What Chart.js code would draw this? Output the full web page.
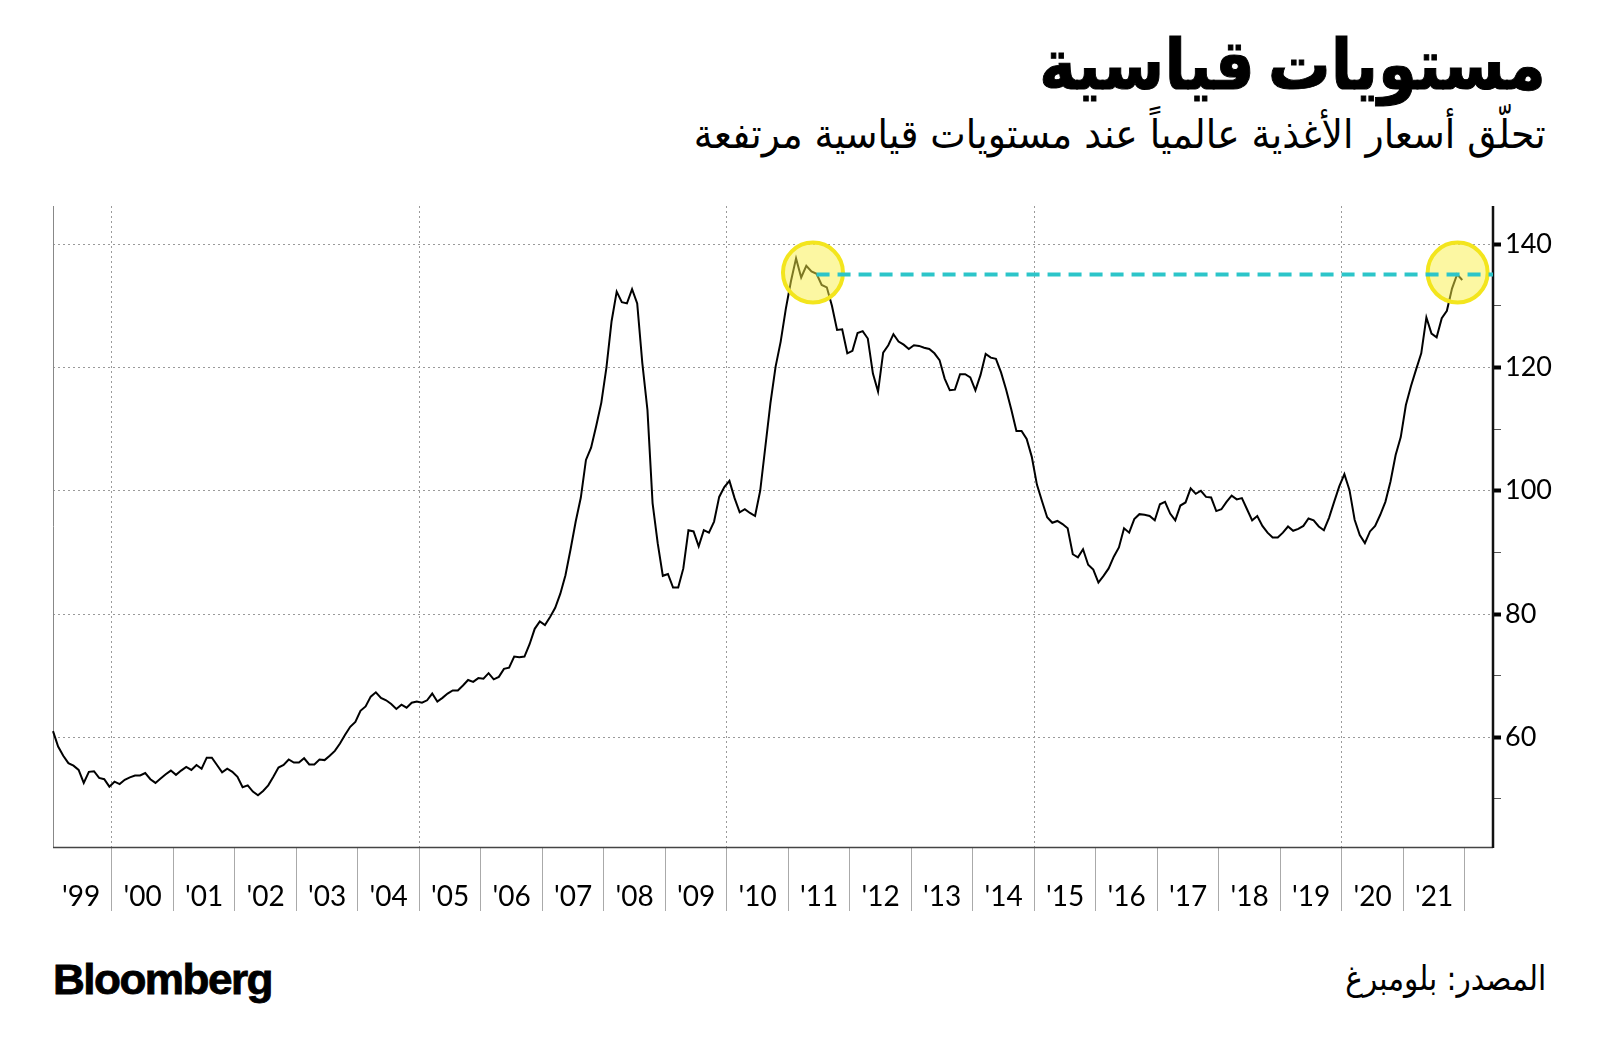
<!DOCTYPE html>
<html lang="ar">
<head>
<meta charset="utf-8">
<title>مستويات قياسية</title>
<script src="https://cdn.jsdelivr.net/npm/chart.js@4.4.0/dist/chart.umd.min.js"></script>
<style>
  html, body { margin: 0; padding: 0; background: #fff; }
  body { width: 1600px; height: 1058px; position: relative; overflow: hidden; }
  .txt { position: absolute; white-space: nowrap; line-height: 1; color: #000; display: inline-block; }
  .ar { direction: rtl; right: 54px; transform-origin: right center; font-family: "DejaVu Sans", sans-serif; }
  #title { top: 30px; font-size: 70px; font-weight: bold; word-spacing: -10px; -webkit-text-stroke: 1px #000; }
  #subtitle { top: 114px; font-size: 40px; }
  #source { top: 961px; font-size: 34px; }
  #brand { left: 53px; top: 958px; font-family: "Liberation Sans", Arial, sans-serif; font-weight: bold;
           font-size: 43px; letter-spacing: -1.5px; -webkit-text-stroke: 0.8px #000; transform-origin: left center; }
  #wrap { position: absolute; left: 0; top: 0; width: 1600px; height: 1058px; }
</style>
</head>
<body>
<div class="txt ar" id="title" data-w="507">مستويات قياسية</div>
<div class="txt ar" id="subtitle" data-w="852">تحلّق أسعار الأغذية عالمياً عند مستويات قياسية مرتفعة</div>
<div class="txt ar" id="source" data-w="201">المصدر: بلومبرغ</div>
<div class="txt" id="brand" data-w="219">Bloomberg</div>
<div id="wrap"><canvas id="chart"></canvas></div>
<script>
// FAO food price index, monthly, Jan 1999 .. Dec 2021
const years = [1999, 2000, 2001, 2002, 2003, 2004, 2005, 2006, 2007, 2008, 2009, 2010,
               2011, 2012, 2013, 2014, 2015, 2016, 2017, 2018, 2019, 2020, 2021];
const yearLabels = ["'99", "'00", "'01", "'02", "'03", "'04", "'05", "'06", "'07", "'08", "'09", "'10",
                    "'11", "'12", "'13", "'14", "'15", "'16", "'17", "'18", "'19", "'20", "'21"];
const foodIndex = [
  61.0, 58.5, 57.0, 55.8, 55.4, 54.7, 52.6, 54.4, 54.5, 53.4, 53.2, 52.0,   // 1999
  52.8, 52.4, 53.1, 53.5, 53.8, 53.8, 54.2, 53.2, 52.6, 53.3, 54.0, 54.6,   // 2000
  53.9, 54.6, 55.2, 54.7, 55.5, 54.9, 56.7, 56.7, 55.5, 54.3, 54.9, 54.4,   // 2001
  53.6, 51.9, 52.2, 51.2, 50.6, 51.3, 52.2, 53.6, 55.1, 55.5, 56.4, 55.9,   // 2002
  55.9, 56.6, 55.6, 55.6, 56.4, 56.3, 57.0, 57.8, 59.0, 60.4, 61.7, 62.5,   // 2003
  64.3, 65.0, 66.6, 67.3, 66.4, 66.0, 65.4, 64.6, 65.3, 64.8, 65.6, 65.8,   // 2004
  65.6, 66.0, 67.1, 65.8, 66.4, 67.1, 67.6, 67.6, 68.4, 69.3, 69.0, 69.6,   // 2005
  69.5, 70.4, 69.4, 69.8, 71.1, 71.3, 73.1, 73.0, 73.1, 75.1, 77.6, 78.8,   // 2006
  78.2, 79.5, 81.0, 83.3, 86.3, 90.5, 95.0, 98.9, 105.0, 107.0, 110.5, 114.3, // 2007
  120.0, 127.5, 132.3, 130.6, 130.4, 132.7, 130.4, 120.7, 113.1, 98.0, 91.5, 86.2, // 2008
  86.5, 84.3, 84.3, 87.4, 93.6, 93.4, 91.0, 93.6, 93.2, 95.0, 99.0, 100.6,  // 2009
  101.6, 98.8, 96.5, 97.0, 96.4, 95.9, 100.0, 107.1, 114.2, 120.1, 124.2, 129.5, // 2010
  134.0, 137.7, 134.6, 136.5, 135.6, 135.2, 133.4, 133.0, 130.0, 126.1, 126.2, 122.3, // 2011
  122.7, 125.6, 125.9, 124.7, 119.0, 116.1, 122.4, 123.6, 125.4, 124.2, 123.7, 123.0, // 2012
  123.6, 123.5, 123.2, 123.0, 122.3, 121.2, 118.2, 116.3, 116.4, 118.9, 118.9, 118.4, // 2013
  116.3, 118.8, 122.2, 121.6, 121.4, 119.2, 116.4, 113.2, 109.7, 109.7, 108.4, 105.5, // 2014
  101.0, 98.3, 95.7, 94.8, 95.1, 94.6, 93.9, 89.7, 89.2, 90.5, 88.0, 87.2,  // 2015
  85.1, 86.2, 87.4, 89.3, 90.8, 93.9, 93.2, 95.4, 96.2, 96.1, 95.9, 95.2,   // 2016
  97.8, 98.2, 96.3, 95.2, 97.6, 98.1, 100.4, 99.5, 100.0, 99.0, 98.9, 96.7, // 2017
  97.0, 98.2, 99.2, 98.6, 98.8, 97.0, 95.2, 95.9, 94.3, 93.2, 92.4, 92.4,   // 2018
  93.2, 94.2, 93.5, 93.8, 94.3, 95.5, 95.2, 94.2, 93.6, 95.6, 98.2, 100.7,  // 2019
  102.7, 100.1, 95.3, 92.8, 91.5, 93.4, 94.3, 96.1, 98.2, 101.5, 105.8, 108.7, // 2020
  113.9, 117.0, 119.7, 122.3, 128.1, 125.5, 124.9, 128.0, 129.2, 132.8, 135.1, 134.2  // 2021
];
const yTicks = [50, 60, 70, 80, 90, 100, 110, 120, 130, 140];
const yLabelStep = 20;
const yMin = 42.2, yMax = 146.2;
const xMin = 0, xMax = 281;           // months since Jan 1999
const recordLevel = 135.1;            // dashed line level
const recordStart = 149;              // month where dashed line starts
const highlightMonths = [148.3, 274.1];
const highlightLevels = [135.4, 135.4];

// month index for each point, and year boundaries for x ticks
const points = foodIndex.map((v, i) => ({ x: i, y: v }));
const boundaries = years.concat([years[years.length - 1] + 1]).map(y => (y - years[0]) * 12 - 0.5);
const majorBoundaries = [2000, 2005, 2010, 2015, 2020].map(y => (y - years[0]) * 12 - 0.5);

const tickFont = { family: "Lato, 'Open Sans', sans-serif", size: 28 };

// plot frame: thin left edge, bottom edge, heavy right axis
const framePlugin = {
  id: 'frame',
  beforeDatasetsDraw(chart) {
    const { ctx, chartArea: a } = chart;
    ctx.save();
    ctx.lineWidth = 1;
    ctx.strokeStyle = '#888';
    ctx.beginPath();
    ctx.moveTo(a.left + 0.5, a.top);
    ctx.lineTo(a.left + 0.5, a.bottom);
    ctx.stroke();
    ctx.lineWidth = 1.5;
    ctx.strokeStyle = '#444';
    ctx.beginPath();
    ctx.moveTo(a.left, a.bottom + 0.5);
    ctx.lineTo(a.right, a.bottom + 0.5);
    ctx.stroke();
    ctx.lineWidth = 2.5;
    ctx.strokeStyle = '#111';
    ctx.beginPath();
    ctx.moveTo(a.right, a.top);
    ctx.lineTo(a.right, a.bottom + 1);
    ctx.stroke();
    ctx.restore();
  }
};

const chart = new Chart(document.getElementById('chart'), {
  type: 'line',
  data: {
    datasets: [
      {
        label: 'record',
        data: [{ x: recordStart, y: recordLevel }, { x: xMax, y: recordLevel }],
        borderColor: '#2cc5c9',
        borderWidth: 4,
        borderDash: [13, 8],
        pointRadius: 0,
        order: 1
      },
      {
        type: 'scatter',
        label: 'highlight',
        data: highlightMonths.map((m, i) => ({ x: m, y: highlightLevels[i] })),
        backgroundColor: 'rgba(250, 240, 70, 0.5)',
        borderColor: '#f3e51d',
        borderWidth: 4,
        pointRadius: 30,
        pointHoverRadius: 30,
        order: 2
      },
      {
        label: 'food',
        data: points,
        borderColor: '#000',
        borderWidth: 2,
        pointRadius: 0,
        tension: 0,
        order: 3
      }
    ]
  },
  options: {
    responsive: true,
    maintainAspectRatio: false,
    animation: false,
    events: [],
    clip: false,
    layout: { padding: { left: 53, top: 206, right: 47, bottom: 141 } },
    plugins: { legend: { display: false }, tooltip: { enabled: false } },
    scales: {
      x: {
        type: 'linear',
        min: xMin,
        max: xMax,
        afterBuildTicks: s => { s.ticks = boundaries.map(v => ({ value: v })); },
        afterFit: s => { s.height = 70; },
        ticks: {
          autoSkip: false,
          maxRotation: 0,
          minRotation: 0,
          labelOffset: 30.75,
          padding: -31,
          color: '#000',
          font: tickFont,
          callback: (v, i) => yearLabels[i] || ''
        },
        grid: {
          color: c => (c.tick && majorBoundaries.includes(c.tick.value)) ? '#9a9a9a' : 'rgba(0,0,0,0)',
          lineWidth: 1,
          tickLength: 64,
          tickWidth: 1,
          tickColor: c => c.index === 0 ? 'rgba(0,0,0,0)' : '#aaa'
        },
        border: { display: false, dash: [2, 3] }
      },
      y: {
        position: 'right',
        min: yMin,
        max: yMax,
        afterBuildTicks: s => { s.ticks = yTicks.map(v => ({ value: v })); },
        afterFit: s => { s.width = 60; },
        ticks: {
          color: '#000',
          font: { family: "Lato, 'Open Sans', sans-serif", size: 27 },
          padding: 4,
          callback: v => v % yLabelStep === 0 ? v : ''
        },
        grid: {
          color: c => (c.tick && c.tick.value % yLabelStep === 0) ? '#9a9a9a' : 'rgba(0,0,0,0)',
          lineWidth: 1,
          tickLength: 8,
          tickWidth: c => (c.tick && c.tick.value % yLabelStep === 0) ? 4 : 1,
          tickColor: c => (c.tick && c.tick.value % yLabelStep === 0) ? '#000' : '#555'
        },
        border: { display: false, dash: [2, 3] }
      }
    }
  },
  plugins: [framePlugin]
});

// squeeze the header/footer texts to the widths in the original
document.querySelectorAll('[data-w]').forEach(el => {
  const w = el.getBoundingClientRect().width;
  el.style.transform = 'scaleX(' + (el.dataset.w / w) + ')';
});
</script>
</body>
</html>
